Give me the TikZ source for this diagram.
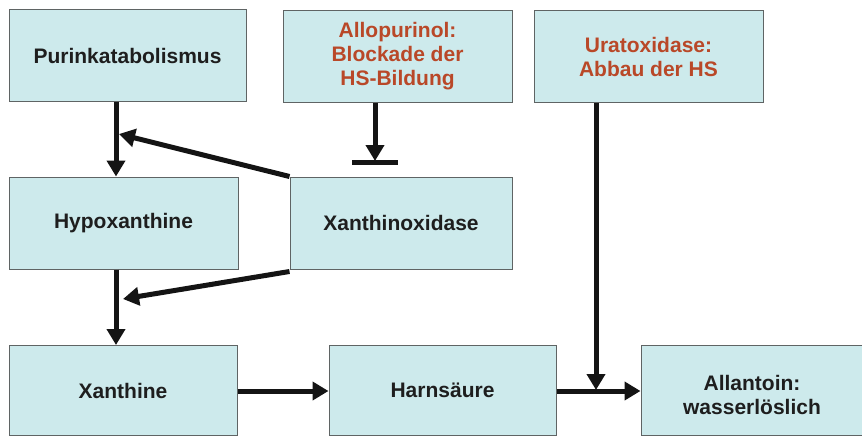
\documentclass[tikz,border=0pt]{standalone}
\usepackage{fontspec}
\setmainfont{Liberation Sans}
\usetikzlibrary{arrows.meta}
\definecolor{boxfill}{RGB}{205,234,236}
\definecolor{boxline}{RGB}{95,100,100}
\definecolor{redtxt}{RGB}{185,72,40}
\definecolor{blacktxt}{RGB}{30,30,30}
\begin{document}
\begin{tikzpicture}[x=1pt,y=-1pt,
  txt/.style={inner sep=0pt,align=center,font=\fontsize{21}{24}\selectfont\bfseries,text=blacktxt},
  box/.style={txt,draw=boxline,line width=1pt,fill=boxfill},
  redbox/.style={box,text=redtxt},
  conn/.style={line width=5pt,draw=black!92,-{Triangle[length=16pt,width=18pt]}}]
\useasboundingbox (0,0) rectangle (862,436);
\node[box,minimum width=237pt,minimum height=91pt] (purin) at (127.5,55.5) {Purinkatabolismus};
\node[redbox,minimum width=229pt,minimum height=91pt] (allo) at (397.5,56.5) {Allopurinol:\\Blockade der\\HS-Bildung};
\node[redbox,minimum width=229pt,minimum height=91pt] (urat) at (648.5,56.5) {Uratoxidase:\\Abbau der HS};
\node[box,minimum width=229pt,minimum height=92pt] (hypox) at (123.5,223) {Hypoxanthine};
\node[box,minimum width=222pt,minimum height=92pt] (xox) at (401,223) {Xanthinoxidase};
\node[box,minimum width=228pt,minimum height=90pt] (xanth) at (123,390.5) {Xanthine};
\node[box,minimum width=227pt,minimum height=90pt] (harn) at (442.5,390.5) {Harns\"aure};
\node[box,minimum width=228pt,minimum height=90pt] (allan) at (755,390.5) {};
\node[txt] (allantxt) at (752,395) {Allantoin:\\wasserl\"oslich};
\coordinate (xa) at (116,0);
\coordinate (xb) at (375,0);
\coordinate (xc) at (596,0);
\coordinate (j1) at (119,134);
\coordinate (j2) at (123,299);
\coordinate (tb) at (375,161);
\coordinate (bl) at (352,162);
\coordinate (br) at (398,162);
\coordinate (j3) at (596,390);
\draw[conn] (xa |- purin.south) -- (xa |- hypox.north);
\draw[conn] (xox.north west) -- (j1);
\draw[conn] ([yshift=-2pt]xox.south west) -- (j2);
\draw[conn] (xa |- hypox.south) -- (xa |- xanth.north);
\draw[conn] (xb |- allo.south) -- (tb);
\draw[line width=5pt,draw=black!92] (bl) -- (br);
\draw[conn] (xc |- urat.south) -- (j3);
\draw[conn] (xanth.east |- 0,391) -- (harn.west |- 0,391);
\draw[conn] (harn.east |- 0,391) -- (allan.west |- 0,391);
\end{tikzpicture}
\end{document}
